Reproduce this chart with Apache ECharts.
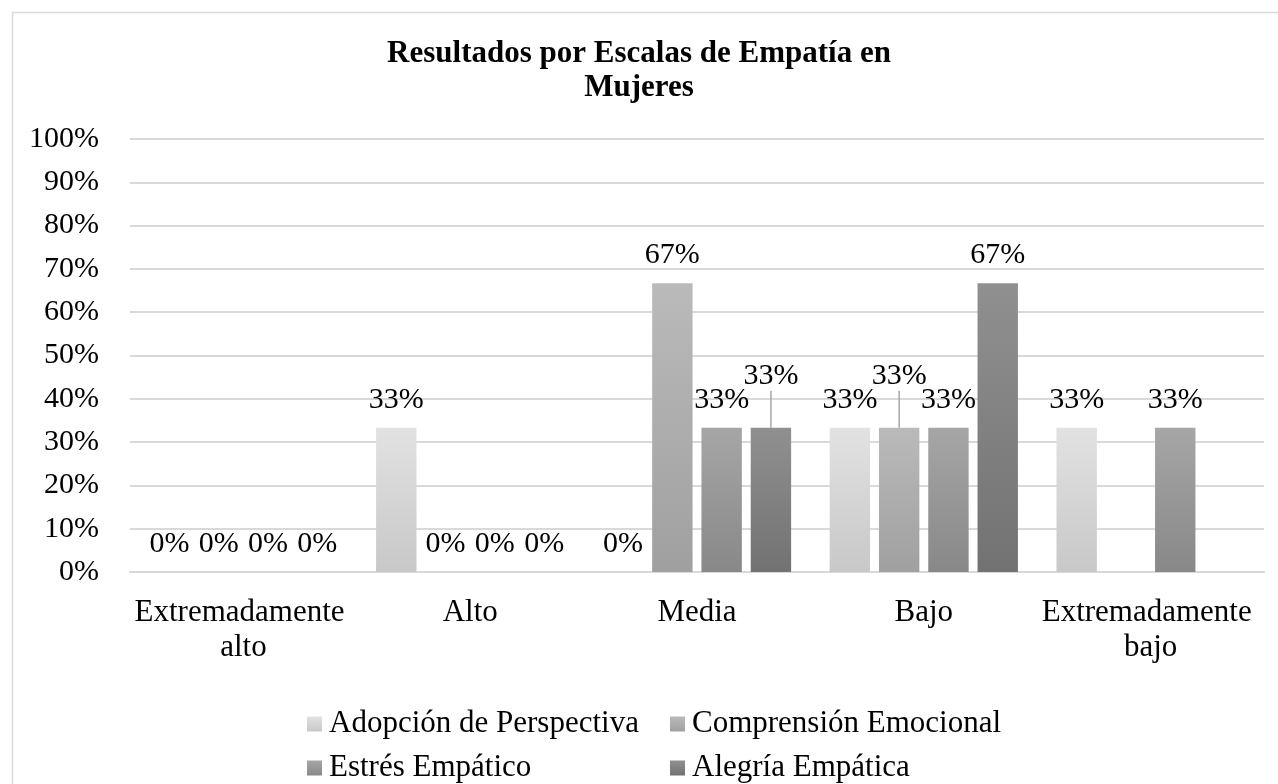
<!DOCTYPE html>
<html>
<head>
<meta charset="utf-8">
<script src="https://cdn.jsdelivr.net/npm/echarts@6/dist/echarts.min.js"></script>
<style>
  html, body { margin: 0; padding: 0; background: #fff; }
  #chart { width: 1278px; height: 784px; }
</style>
</head>
<body>
<div id="chart"></div>
<script>
// datos
var categorias = ['Extremadamente alto', 'Alto', 'Media', 'Bajo', 'Extremadamente bajo'];
var nombres = ['Adopción de Perspectiva', 'Comprensión Emocional', 'Estrés Empático', 'Alegría Empática'];
var adopcion = [0, 1/3, 0, 1/3, 1/3];
var comprension = [0, 0, 2/3, 1/3, null];
var estres = [0, 0, 1/3, 1/3, 1/3];
var alegria = [0, 0, 1/3, 2/3, null];
var ticksY = [0, 0.1, 0.2, 0.3, 0.4, 0.5, 0.6, 0.7, 0.8, 0.9, 1];

// etiquetas que Excel desplazo hacia arriba (serie -> indice)
var etiquetasMovidas = { 1: [3], 3: [2] };

var fuente = 'Liberation Serif';
var colores = [
  ['#e2e2e2', '#c8c8c8'],
  ['#bababa', '#a0a0a0'],
  ['#a6a6a6', '#888888'],
  ['#909090', '#727272']
];

function degradado(c) {
  return new echarts.graphic.LinearGradient(0, 0, 0, 1, [
    { offset: 0, color: c[0] },
    { offset: 1, color: c[1] }
  ]);
}

function serie(i, valores) {
  return {
    name: nombres[i],
    type: 'bar',
    barGap: '22%',
    barCategoryGap: '17%',
    itemStyle: { color: degradado(colores[i]) },
    label: {
      show: true,
      position: 'top',
      distance: 13,
      color: '#000',
      fontFamily: fuente,
      fontSize: 30,
      formatter: function (p) { return Math.round(p.value * 100) + '%'; }
    },
    labelLine: { show: false, lineStyle: { color: '#a6a6a6', width: 1.5 } },
    labelLayout: function (p) {
      var m = etiquetasMovidas[p.seriesIndex];
      if (m && m.indexOf(p.dataIndex) >= 0) return { dy: -24 };
    },
    data: valores.map(function (v, j) {
      var m = etiquetasMovidas[i];
      if (m && m.indexOf(j) >= 0) return { value: v, labelLine: { show: true } };
      return v;
    })
  };
}

var myChart = echarts.init(document.getElementById('chart'));
var option = {
  backgroundColor: '#fff',
  animation: false,
  graphic: [{
    type: 'rect',
    left: 10, top: 10,
    shape: { width: 1300, height: 800 },
    style: { fill: 'none', stroke: '#d9d9d9', lineWidth: 1.5 },
    z: -10
  }],
  title: {
    text: 'Resultados por Escalas de Empatía en\nMujeres',
    left: 'center',
    top: 32,
    textStyle: {
      fontFamily: fuente,
      fontSize: 31,
      fontWeight: 'bold',
      color: '#000',
      lineHeight: 34
    }
  },
  legend: {
    left: 302,
    top: 702,
    width: 760,
    itemWidth: 15,
    itemHeight: 15,
    itemGap: 10,
    icon: 'rect',
    textStyle: {
      fontFamily: fuente,
      fontSize: 31,
      color: '#000',
      width: 331,
      lineHeight: 34,
      padding: [0, 0, 0, 2]
    },
    data: nombres
  },
  grid: { left: 130, right: 14, top: 139, bottom: 212 },
  xAxis: {
    type: 'category',
    data: categorias,
    axisTick: { show: false },
    axisLine: { lineStyle: { color: '#d9d9d9', width: 2 } },
    axisLabel: {
      interval: 0,
      margin: 23,
      color: '#000',
      fontFamily: fuente,
      fontSize: 31,
      lineHeight: 35,
      width: 222,
      overflow: 'break'
    }
  },
  yAxis: {
    type: 'value',
    min: ticksY[0],
    max: ticksY[ticksY.length - 1],
    interval: 0.1,
    axisLine: { show: false },
    axisTick: { show: false },
    splitLine: { lineStyle: { color: '#d9d9d9', width: 2 } },
    axisLabel: {
      margin: 31,
      color: '#000',
      fontFamily: fuente,
      fontSize: 30,
      formatter: function (v) { return Math.round(v * 100) + '%'; }
    }
  },
  series: [
    serie(0, adopcion),
    serie(1, comprension),
    serie(2, estres),
    serie(3, alegria)
  ]
};
option && myChart.setOption(option);
</script>
</body>
</html>
